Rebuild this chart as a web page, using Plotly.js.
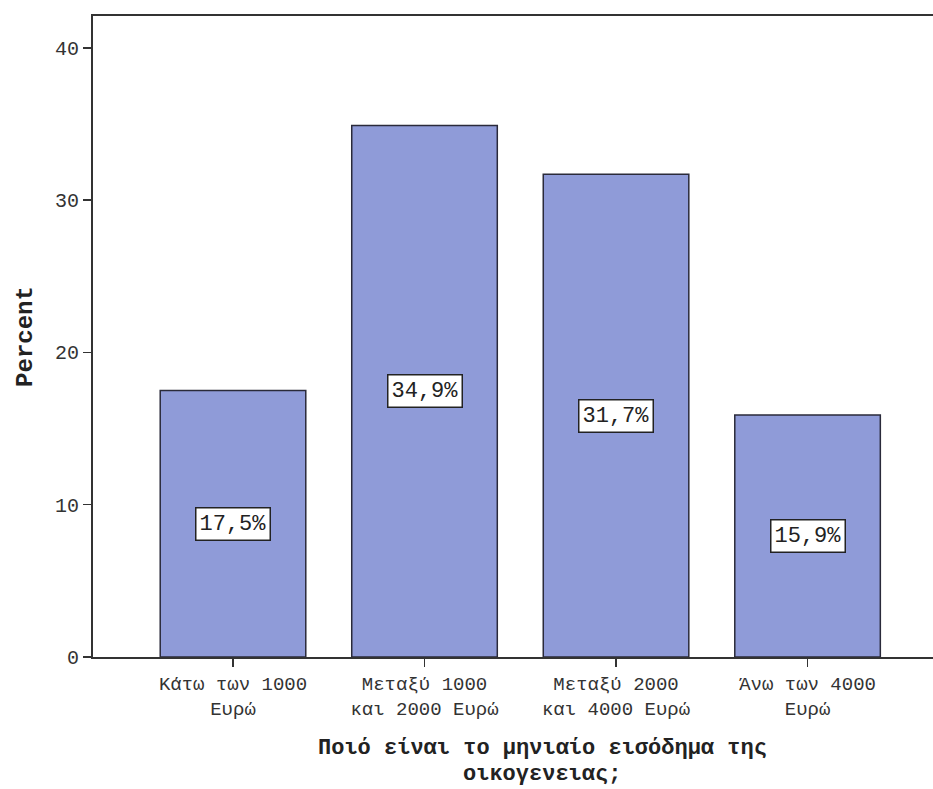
<!DOCTYPE html>
<html>
<head>
<meta charset="utf-8">
<script src="https://cdn.plot.ly/plotly-3.0.1.min.js"></script>
<style>html,body{margin:0;padding:0;background:#fff;}#chart{width:933px;height:789px;}</style>
</head>
<body>
<div id="chart"></div>
<script>
const categories = ["Κάτω των 1000<br>Ευρώ", "Μεταξύ 1000<br>και 2000 Ευρώ", "Μεταξύ 2000<br>και 4000 Ευρώ", "Άνω των 4000<br>Ευρώ"];
const percents = [17.5, 34.9, 31.7, 15.9];
const yTicks = [0, 10, 20, 30, 40];
const xTitleLines = ["Ποιό είναι το μηνιαίο εισόδημα της", "οικογενειας;"];
const yTitle = "Percent";

const mono = "Liberation Mono, Courier New, monospace";
const idx = categories.map((c, i) => i);

const trace = {
  type: "bar",
  x: idx,
  y: percents,
  width: 0.76,
  marker: {color: "rgb(143,155,216)", line: {color: "#2a2a3a", width: 1.5}},
  hoverinfo: "none"
};

const annotations = percents.map((v, i) => ({
  x: i, y: v / 2, xref: "x", yref: "y",
  text: v.toFixed(1).replace(".", ",") + "%",
  showarrow: false,
  bgcolor: "#ffffff",
  bordercolor: "#222222",
  borderwidth: 1.5,
  borderpad: 3,
  font: {family: mono, size: 22, color: "#222"}
}));

const titleY = [-0.143, -0.183];
xTitleLines.forEach((t, i) => annotations.push({
  xref: "paper", yref: "paper", x: 0.535, y: titleY[i], yanchor: "middle",
  text: "<b>" + t + "</b>", showarrow: false,
  font: {family: mono, size: 22, color: "#222"}
}));

const layout = {
  width: 933, height: 789,
  margin: {l: 93, r: 0, t: 16, b: 132},
  paper_bgcolor: "#ffffff",
  plot_bgcolor: "#ffffff",
  showlegend: false,
  xaxis: {
    range: [-0.731, 3.655],
    tickvals: idx,
    ticktext: categories,
    ticks: "outside", ticklen: 8, tickwidth: 1.5, tickcolor: "#333",
    showline: true, linecolor: "#333", linewidth: 2, mirror: true,
    showgrid: false, zeroline: false,
    tickfont: {family: mono, size: 19, color: "#333"}
  },
  yaxis: {
    range: [0, 42.1],
    tickvals: yTicks,
    ticks: "outside", ticklen: 8, tickwidth: 1.5, tickcolor: "#333",
    showline: true, linecolor: "#333", linewidth: 2,
    showgrid: false, zeroline: false,
    tickfont: {family: mono, size: 20, color: "#333"},
    title: {text: "<b>" + yTitle + "</b>", font: {family: mono, size: 24, color: "#222"}, standoff: 16}
  },
  annotations: annotations
};

Plotly.newPlot("chart", [trace], layout, {displayModeBar: false, staticPlot: true});
</script>
</body>
</html>
